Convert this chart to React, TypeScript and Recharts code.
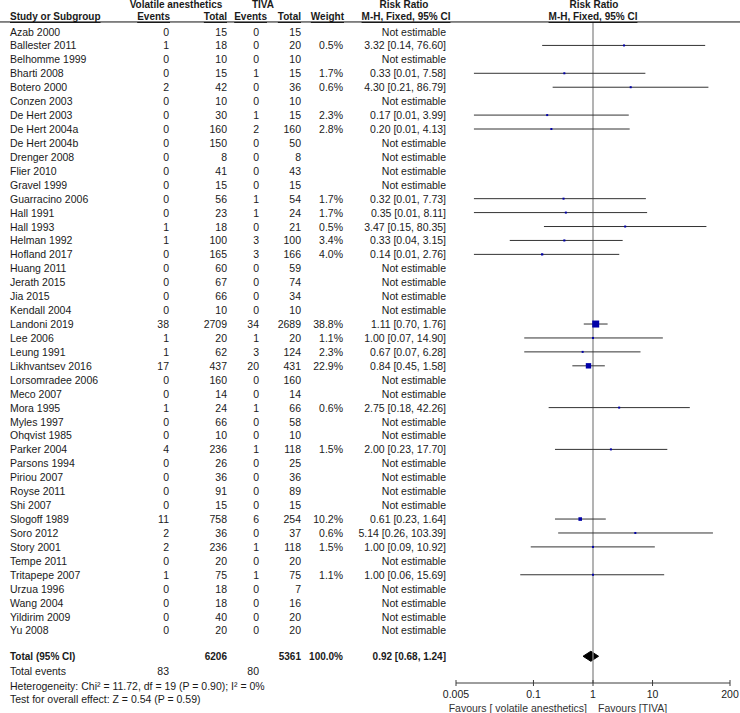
import React from 'react';
import { ScatterChart, Scatter, XAxis, YAxis, ErrorBar, ReferenceLine, ReferenceArea, ReferenceDot } from 'recharts';

// ---------- data ----------
const studyNames = [
  'Azab 2000', 'Ballester 2011', 'Belhomme 1999', 'Bharti 2008', 'Botero 2000', 'Conzen 2003',
  'De Hert 2003', 'De Hert 2004a', 'De Hert 2004b', 'Drenger 2008', 'Flier 2010', 'Gravel 1999',
  'Guarracino 2006', 'Hall 1991', 'Hall 1993', 'Helman 1992', 'Hofland 2017', 'Huang 2011',
  'Jerath 2015', 'Jia 2015', 'Kendall 2004', 'Landoni 2019', 'Lee 2006', 'Leung 1991',
  'Likhvantsev 2016', 'Lorsomradee 2006', 'Meco 2007', 'Mora 1995', 'Myles 1997', 'Ohqvist 1985',
  'Parker 2004', 'Parsons 1994', 'Piriou 2007', 'Royse 2011', 'Shi 2007', 'Slogoff 1989',
  'Soro 2012', 'Story 2001', 'Tempe 2011', 'Tritapepe 2007', 'Urzua 1996', 'Wang 2004',
  'Yildirim 2009', 'Yu 2008',
];
const volEvents = [0, 1, 0, 0, 2, 0, 0, 0, 0, 0, 0, 0, 0, 0, 1, 1, 0, 0, 0, 0, 0, 38, 1, 1, 17, 0, 0, 1, 0, 0, 4, 0, 0, 0, 0, 11, 2, 2, 0, 1, 0, 0, 0, 0];
const volTotals = [15, 18, 10, 15, 42, 10, 30, 160, 150, 8, 41, 15, 56, 23, 18, 100, 165, 60, 67, 66, 10, 2709, 20, 62, 437, 160, 14, 24, 66, 10, 236, 26, 36, 91, 15, 758, 36, 236, 20, 75, 18, 18, 40, 20];
const tivaEvents = [0, 0, 0, 1, 0, 0, 1, 2, 0, 0, 0, 0, 1, 1, 0, 3, 3, 0, 0, 0, 0, 34, 1, 3, 20, 0, 0, 1, 0, 0, 1, 0, 0, 0, 0, 6, 0, 1, 0, 1, 0, 0, 0, 0];
const tivaTotals = [15, 20, 10, 15, 36, 10, 15, 160, 50, 8, 43, 15, 54, 24, 21, 100, 166, 59, 74, 34, 10, 2689, 20, 124, 431, 160, 14, 66, 58, 10, 118, 25, 36, 89, 15, 254, 37, 118, 20, 75, 7, 16, 20, 20];
const weights: (number | null)[] = [null, 0.5, null, 1.7, 0.6, null, 2.3, 2.8, null, null, null, null, 1.7, 1.7, 0.5, 3.4, 4.0, null, null, null, null, 38.8, 1.1, 2.3, 22.9, null, null, 0.6, null, null, 1.5, null, null, null, null, 10.2, 0.6, 1.5, null, 1.1, null, null, null, null];
const riskRatios: (number | null)[] = [null, 3.32, null, 0.33, 4.30, null, 0.17, 0.20, null, null, null, null, 0.32, 0.35, 3.47, 0.33, 0.14, null, null, null, null, 1.11, 1.00, 0.67, 0.84, null, null, 2.75, null, null, 2.00, null, null, null, null, 0.61, 5.14, 1.00, null, 1.00, null, null, null, null];
const ciLower: (number | null)[] = [null, 0.14, null, 0.01, 0.21, null, 0.01, 0.01, null, null, null, null, 0.01, 0.01, 0.15, 0.04, 0.01, null, null, null, null, 0.70, 0.07, 0.07, 0.45, null, null, 0.18, null, null, 0.23, null, null, null, null, 0.23, 0.26, 0.09, null, 0.06, null, null, null, null];
const ciUpper: (number | null)[] = [null, 76.60, null, 7.58, 86.79, null, 3.99, 4.13, null, null, null, null, 7.73, 8.11, 80.35, 3.15, 2.76, null, null, null, null, 1.76, 14.90, 6.28, 1.58, null, null, 42.26, null, null, 17.70, null, null, null, null, 1.64, 103.39, 10.92, null, 15.69, null, null, null, null];

const totalLabel = 'Total (95% CI)';
const totalVolN = 6206;
const totalTivaN = 5361;
const totalWeight = 100.0;
const totalRR = 0.92;
const totalLo = 0.68;
const totalHi = 1.24;
const totalEventsLabel = 'Total events';
const totalEventsVol = 83;
const totalEventsTiva = 80;
const heterogeneityText = 'Heterogeneity: Chi² = 11.72, df = 19 (P = 0.90); I² = 0%';
const overallEffectText = 'Test for overall effect: Z = 0.54 (P = 0.59)';
const axisTicks = [0.005, 0.1, 1, 10, 200];
const favoursLeft = 'Favours [ volatile anesthetics]';
const favoursRight = 'Favours [TIVA]';

// ---------- layout (row positions in the y scale) ----------
const Y_HEAD1 = -1.94;
const Y_HEAD2 = -1.08;
const Y_TOTAL = 44.85;
const Y_EVENTS = 45.91;
const Y_HET = 46.95;
const Y_TEST = 47.95;
const Y_DOMAIN: [number, number] = [-0.682, 46.77];

const FONT = '"Liberation Sans", Arial, Helvetica, sans-serif';
const TXT = '#1a1a1a';
const COL = { name: 10, volEv: 169, volTot: 227, tivaEv: 259, tivaTot: 301, weight: 343, rr: 446 };

const fmtRR = (r: number, l: number, h: number) => `${r.toFixed(2)} [${l.toFixed(2)}, ${h.toFixed(2)}]`;

const studyRows = studyNames.map((_, i) => ({ x: 1, y: i, kind: 'study', i }));
const totalRows = [{ x: 1, y: Y_TOTAL, kind: 'total' }];
const extraRows = [
  { y: Y_HEAD1, kind: 'head1' },
  { y: Y_HEAD2, kind: 'head2' },
  { y: Y_EVENTS, kind: 'events' },
  { y: Y_HET, kind: 'het' },
  { y: Y_TEST, kind: 'test' },
];

const forestRows = studyNames
  .map((name, i) => ({ name, i }))
  .filter(({ i }) => riskRatios[i] != null)
  .map(({ name, i }) => ({
    name,
    x: riskRatios[i] as number,
    y: i,
    w: weights[i] as number,
    err: [(riskRatios[i] as number) - (ciLower[i] as number), (ciUpper[i] as number) - (riskRatios[i] as number)],
  }));

function T(props: { x: number; y: number; anchor?: 'start' | 'middle' | 'end'; bold?: boolean; underline?: boolean; children: React.ReactNode }) {
  const { x, y, anchor = 'end', bold = false, underline = false, children } = props;
  return (
    <text
      x={x}
      y={y}
      textAnchor={anchor}
      dominantBaseline="central"
      fontFamily={FONT}
      fontSize={bold ? 10 : 10.5}
      fontWeight={bold ? 'bold' : 'normal'}
      fill={TXT}
      textDecoration={underline ? 'underline' : undefined}
    >
      {children}
    </text>
  );
}

function RowText({ cy, kind, i }: { cy: number; kind: string; i?: number }) {
  if (kind === 'head1') {
    return (
      <g>
        <T x={176} y={cy} anchor="middle" bold>Volatile anesthetics</T>
        <T x={263} y={cy} anchor="middle" bold>TIVA</T>
        <T x={404} y={cy} anchor="middle" bold>Risk Ratio</T>
        <T x={594} y={cy} anchor="middle" bold>Risk Ratio</T>
      </g>
    );
  }
  if (kind === 'head2') {
    return (
      <g>
        <T x={COL.name} y={cy} anchor="start" bold underline>Study or Subgroup</T>
        <T x={COL.volEv + 1} y={cy} bold underline>Events</T>
        <T x={COL.volTot} y={cy} bold underline>Total</T>
        <T x={COL.tivaEv + 8} y={cy} bold underline>Events</T>
        <T x={COL.tivaTot} y={cy} bold underline>Total</T>
        <T x={COL.weight + 1} y={cy} bold underline>Weight</T>
        <T x={406} y={cy} anchor="middle" bold underline>M-H, Fixed, 95% CI</T>
        <T x={593} y={cy} anchor="middle" bold underline>M-H, Fixed, 95% CI</T>
        <line x1={0} x2={740} y1={cy + 5.5} y2={cy + 5.5} stroke="#111" strokeWidth={1} />
      </g>
    );
  }
  if (kind === 'study' && i != null) {
    const rr = riskRatios[i];
    return (
      <g>
        <T x={COL.name} y={cy} anchor="start">{studyNames[i]}</T>
        <T x={COL.volEv} y={cy}>{volEvents[i]}</T>
        <T x={COL.volTot} y={cy}>{volTotals[i]}</T>
        <T x={COL.tivaEv} y={cy}>{tivaEvents[i]}</T>
        <T x={COL.tivaTot} y={cy}>{tivaTotals[i]}</T>
        {weights[i] != null && <T x={COL.weight} y={cy}>{`${(weights[i] as number).toFixed(1)}%`}</T>}
        <T x={COL.rr} y={cy}>
          {rr == null ? 'Not estimable' : fmtRR(rr, ciLower[i] as number, ciUpper[i] as number)}
        </T>
      </g>
    );
  }
  if (kind === 'total') {
    return (
      <g>
        <T x={COL.name} y={cy} anchor="start" bold>{totalLabel}</T>
        <T x={COL.volTot} y={cy} bold>{totalVolN}</T>
        <T x={COL.tivaTot} y={cy} bold>{totalTivaN}</T>
        <T x={COL.weight} y={cy} bold>{`${totalWeight.toFixed(1)}%`}</T>
        <T x={COL.rr} y={cy} bold>{fmtRR(totalRR, totalLo, totalHi)}</T>
      </g>
    );
  }
  if (kind === 'events') {
    return (
      <g>
        <T x={COL.name} y={cy} anchor="start">{totalEventsLabel}</T>
        <T x={COL.volEv} y={cy}>{totalEventsVol}</T>
        <T x={COL.tivaEv} y={cy}>{totalEventsTiva}</T>
      </g>
    );
  }
  if (kind === 'het') return <T x={COL.name} y={cy} anchor="start">{heterogeneityText}</T>;
  if (kind === 'test') return <T x={COL.name} y={cy} anchor="start">{overallEffectText}</T>;
  return <g />;
}

function SquareShape(props: any) {
  const { cx, cy, payload } = props;
  const side = Math.max(2, 7 * Math.sqrt(payload.w / 38.8));
  return <rect x={cx - side / 2} y={cy - side / 2} width={side} height={side} fill="#0000a8" />;
}

function DiamondShape(props: any) {
  const { x, y, width, height } = props;
  const cx = x + (width * (Math.log(totalRR) - Math.log(totalLo))) / (Math.log(totalHi) - Math.log(totalLo));
  const pts = `${x},${y + height / 2} ${cx},${y} ${x + width},${y + height / 2} ${cx},${y + height}`;
  return <polygon points={pts} fill="#000" stroke="#000" strokeWidth={1} />;
}

function AxisTick(props: any) {
  const { x, y, payload } = props;
  const v = payload.value;
  return (
    <g>
      <line x1={x} x2={x} y1={y - 3} y2={y + 3} stroke="#3c3c3c" />
      <text x={x} y={y + 10.5} textAnchor="middle" dominantBaseline="central" fontFamily={FONT} fontSize={10.5} fill={TXT}>
        {String(v)}
      </text>
      {v === 1 && (
        <>
          <text x={x - 6} y={y + 25} textAnchor="end" dominantBaseline="central" fontFamily={FONT} fontSize={10.5} fill="#333">
            {favoursLeft}
          </text>
          <text x={x + 5} y={y + 25} textAnchor="start" dominantBaseline="central" fontFamily={FONT} fontSize={10.5} fill="#333">
            {favoursRight}
          </text>
        </>
      )}
    </g>
  );
}

export default function App() {
  return (
    <div style={{ position: 'absolute', left: 0, top: 0, background: '#fff' }}>
      <ScatterChart width={740} height={713} margin={{ top: 22, right: 10, bottom: 0, left: 456 }}>
        <XAxis
          type="number"
          dataKey="x"
          scale="log"
          domain={[0.005, 200]}
          ticks={axisTicks}
          interval={0}
          tickSize={0}
          tickMargin={0}
          tickLine={false}
          axisLine={{ stroke: '#3c3c3c' }}
          tick={<AxisTick />}
          height={30}
        />
        <YAxis type="number" dataKey="y" domain={Y_DOMAIN} reversed hide />
        <ReferenceLine x={1} stroke="#8a8a8a" strokeWidth={1.3} />
        <ReferenceArea
          x1={totalLo}
          x2={totalHi}
          y1={Y_TOTAL - 0.36}
          y2={Y_TOTAL + 0.36}
          shape={(p: any) => <DiamondShape {...p} />}
        />
        {extraRows.map((r) => (
          <ReferenceDot
            key={r.kind}
            x={1}
            y={r.y}
            r={0}
            ifOverflow="visible"
            shape={(p: any) => <RowText cy={p.cy} kind={r.kind} />}
          />
        ))}
        <Scatter
          data={[...studyRows, ...totalRows]}
          shape={(p: any) => <RowText cy={p.cy} kind={p.payload.kind} i={p.payload.i} />}
          isAnimationActive={false}
        />
        <Scatter data={forestRows} shape={(p: any) => <SquareShape {...p} />} isAnimationActive={false}>
          <ErrorBar dataKey="err" direction="x" width={0} stroke="#333" strokeWidth={1} />
        </Scatter>
      </ScatterChart>
    </div>
  );
}
